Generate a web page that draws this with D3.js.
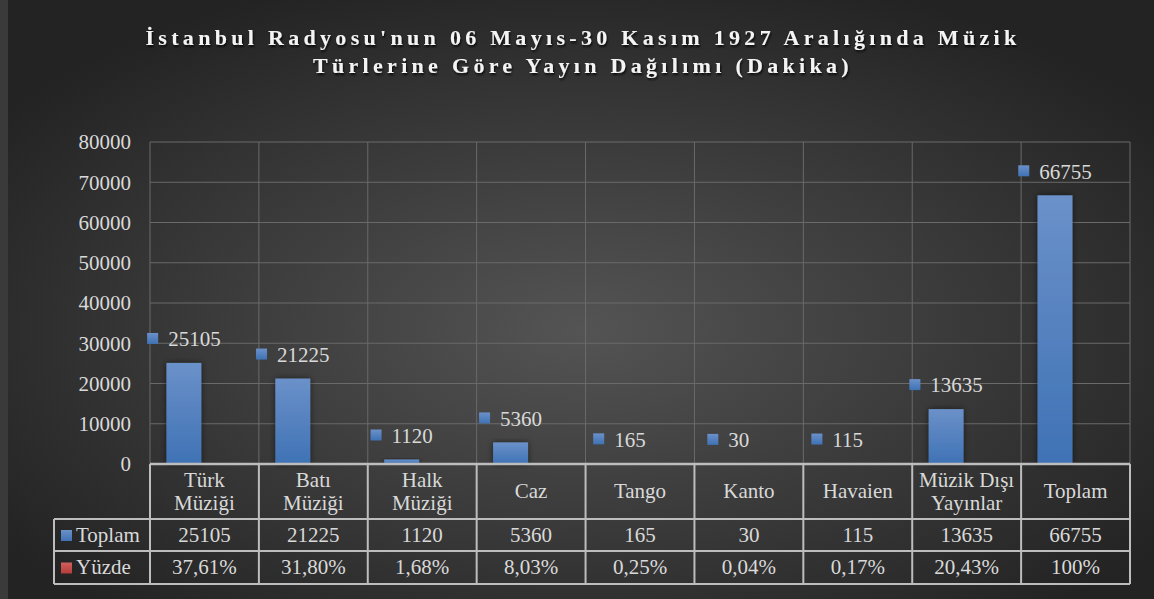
<!DOCTYPE html>
<html lang="tr">
<head>
<meta charset="utf-8">
<title>Istanbul Radyosu 1927</title>
<style>
  body { margin: 0; background: #2a2a2a; }
</style>
</head>
<body>
<svg id="chart" width="1154" height="599" font-family="'Liberation Serif', 'DejaVu Serif', serif"></svg>
<script src="https://d3js.org/d3.v7.min.js"></script>
<script>
// data
const categories = [["Türk", "Müziği"], ["Batı", "Müziği"], ["Halk", "Müziği"], ["Caz"], ["Tango"], ["Kanto"], ["Havaien"], ["Müzik Dışı", "Yayınlar"], ["Toplam"]];
const toplam = [25105, 21225, 1120, 5360, 165, 30, 115, 13635, 66755];
const yuzde = [0.3761, 0.3180, 0.0168, 0.0803, 0.0025, 0.0004, 0.0017, 0.2043, 1];
const yuzdeLabels = ["37,61%", "31,80%", "1,68%", "8,03%", "0,25%", "0,04%", "0,17%", "20,43%", "100%"];
const yTicks = [0, 10000, 20000, 30000, 40000, 50000, 60000, 70000, 80000];
const seriesNames = ["Toplam", "Yüzde"];

const W = 1154, H = 599;
const plot = { left: 150, right: 1130, top: 142, bottom: 464 };
const table = { left: 54, headBottom: 519, row1Bottom: 551, row2Bottom: 584 };
const fs = 21;
const textColor = "#d9d9d9";

const svg = d3.select("#chart");
const defs = svg.append("defs");

const bg = defs.append("radialGradient").attr("id", "bg")
  .attr("cx", "50%").attr("cy", "55%").attr("r", "62%");
bg.append("stop").attr("offset", "0%").attr("stop-color", "#545454");
bg.append("stop").attr("offset", "100%").attr("stop-color", "#232323");

const barGrad = defs.append("linearGradient").attr("id", "barGrad")
  .attr("x1", 0).attr("y1", 0).attr("x2", 0).attr("y2", 1);
barGrad.append("stop").attr("offset", "0%").attr("stop-color", "#6b91c9");
barGrad.append("stop").attr("offset", "100%").attr("stop-color", "#3f72b5");

const redGrad = defs.append("linearGradient").attr("id", "redGrad")
  .attr("x1", 0).attr("y1", 0).attr("x2", 0).attr("y2", 1);
redGrad.append("stop").attr("offset", "0%").attr("stop-color", "#d2605d");
redGrad.append("stop").attr("offset", "100%").attr("stop-color", "#b43c3a");

const shadow = defs.append("filter").attr("id", "shadow")
  .attr("x", "-40%").attr("y", "-20%").attr("width", "180%").attr("height", "140%");
shadow.append("feDropShadow").attr("dx", 0).attr("dy", 0).attr("stdDeviation", 3)
  .attr("flood-color", "#000").attr("flood-opacity", 0.55);

const tshadow = defs.append("filter").attr("id", "tshadow");
tshadow.append("feDropShadow").attr("dx", 1).attr("dy", 2).attr("stdDeviation", 1.2)
  .attr("flood-color", "#000").attr("flood-opacity", 0.8);

svg.append("rect").attr("width", W).attr("height", H).attr("fill", "#3a3a3a");
svg.append("rect").attr("x", 8).attr("width", W - 8).attr("height", H).attr("fill", "url(#bg)");

// title - letters spread so line 1 spans the same width as the original
const title = svg.append("text")
  .attr("text-anchor", "middle")
  .attr("fill", "#f4f4f4")
  .attr("font-size", 22)
  .attr("font-weight", "bold")
  .attr("filter", "url(#tshadow)");
const t1 = title.append("tspan").attr("x", 583).attr("y", 45)
  .text("İstanbul Radyosu'nun 06 Mayıs-30 Kasım 1927 Aralığında Müzik");
title.append("tspan").attr("x", 583).attr("y", 73)
  .text("Türlerine Göre Yayın Dağılımı (Dakika)");
const rawW = t1.node().getComputedTextLength();
const nChars = t1.text().length;
title.attr("letter-spacing", Math.max(0, (875 - rawW) / nChars));

// scales
const x = d3.scaleBand().domain(d3.range(categories.length))
  .range([plot.left, plot.right]).padding(0);
const xs = d3.scaleBand().domain(seriesNames)
  .range([0, x.bandwidth()]).paddingInner(0.15).paddingOuter(0.4);
const y = d3.scaleLinear().domain([0, 80000]).range([plot.bottom, plot.top]);

const gridColor = "#6a6a6a";

// horizontal grid
svg.append("g").selectAll("line").data(yTicks).join("line")
  .attr("x1", plot.left).attr("x2", plot.right)
  .attr("y1", d => y(d)).attr("y2", d => y(d))
  .attr("stroke", gridColor).attr("stroke-width", 1);

// vertical grid at category edges
const edges = d3.range(categories.length + 1).map(i => i < categories.length ? x(i) : plot.right);
svg.append("g").selectAll("line").data(edges).join("line")
  .attr("x1", d => d).attr("x2", d => d)
  .attr("y1", plot.top).attr("y2", plot.bottom)
  .attr("stroke", gridColor).attr("stroke-width", 1);

// y axis labels
svg.append("g").selectAll("text").data(yTicks).join("text")
  .attr("x", 131).attr("y", d => y(d)).attr("dy", "0.35em")
  .attr("text-anchor", "end").attr("font-size", fs).attr("fill", textColor)
  .text(d => d);

// bars
svg.append("g").selectAll("rect").data(toplam).join("rect")
  .attr("x", (d, i) => x(i) + xs("Toplam"))
  .attr("width", xs.bandwidth())
  .attr("y", d => y(d))
  .attr("height", d => y(0) - y(d))
  .attr("fill", "url(#barGrad)")
  .attr("filter", "url(#shadow)");
svg.append("g").selectAll("rect").data(yuzde).join("rect")
  .attr("x", (d, i) => x(i) + xs("Yüzde"))
  .attr("width", xs.bandwidth())
  .attr("y", d => y(d))
  .attr("height", d => y(0) - y(d))
  .attr("fill", "url(#redGrad)");

// data labels with legend key
const labels = svg.append("g").selectAll("g").data(toplam).join("g");
labels.each(function(d, i) {
  const g = d3.select(this);
  const t = g.append("text").attr("font-size", fs).attr("fill", textColor)
    .attr("dy", "0.35em").text(d);
  const tw = t.node().getComputedTextLength();
  const total = 11 + 10 + tw;
  const cx = x(i) + xs("Toplam") + xs.bandwidth() / 2;
  const cy = y(d) - 24;
  const left = cx - total / 2;
  g.append("rect").attr("x", left).attr("y", cy - 6).attr("width", 11).attr("height", 11)
    .attr("fill", "url(#barGrad)");
  t.attr("x", left + 21).attr("y", cy);
});

// data table
const lineColor = "#bdbdbd";
const tg = svg.append("g");
categories.forEach((lines, i) => {
  const cx = x(i) + x.bandwidth() / 2;
  const mid = (plot.bottom + table.headBottom) / 2;
  const t = tg.append("text").attr("text-anchor", "middle").attr("font-size", fs).attr("fill", textColor);
  lines.forEach((s, k) => {
    t.append("tspan").attr("x", cx)
      .attr("y", mid + (k - (lines.length - 1) / 2) * 23)
      .attr("dy", "0.33em").text(s);
  });
});
const rows = [
  { name: "Toplam", fill: "url(#barGrad)", vals: toplam.map(String), top: table.headBottom, bottom: table.row1Bottom },
  { name: "Yüzde", fill: "url(#redGrad)", vals: yuzdeLabels, top: table.row1Bottom, bottom: table.row2Bottom }
];
rows.forEach(r => {
  const cy = (r.top + r.bottom) / 2;
  tg.append("rect").attr("x", 61).attr("y", cy - 5).attr("width", 11).attr("height", 11).attr("fill", r.fill);
  tg.append("text").attr("x", 76).attr("y", cy).attr("dy", "0.33em")
    .attr("font-size", fs).attr("fill", textColor).text(r.name);
  r.vals.forEach((v, i) => {
    tg.append("text").attr("x", x(i) + x.bandwidth() / 2).attr("y", cy).attr("dy", "0.33em")
      .attr("text-anchor", "middle").attr("font-size", fs).attr("fill", textColor).text(v);
  });
});
const hLines = [
  { y: plot.bottom, x1: plot.left, w: 2.5 },
  { y: table.headBottom, x1: table.left, w: 2 },
  { y: table.row1Bottom, x1: table.left, w: 2 },
  { y: table.row2Bottom, x1: table.left, w: 2 }
];
tg.selectAll("line.h").data(hLines).join("line").attr("class", "h")
  .attr("x1", d => d.x1).attr("x2", plot.right)
  .attr("y1", d => d.y).attr("y2", d => d.y)
  .attr("stroke", lineColor).attr("stroke-width", d => d.w);
tg.selectAll("line.v").data(edges).join("line").attr("class", "v")
  .attr("x1", d => d).attr("x2", d => d)
  .attr("y1", plot.bottom).attr("y2", table.row2Bottom)
  .attr("stroke", lineColor).attr("stroke-width", 2);
tg.append("line").attr("x1", table.left).attr("x2", table.left)
  .attr("y1", table.headBottom).attr("y2", table.row2Bottom)
  .attr("stroke", lineColor).attr("stroke-width", 2);
</script>
</body>
</html>
